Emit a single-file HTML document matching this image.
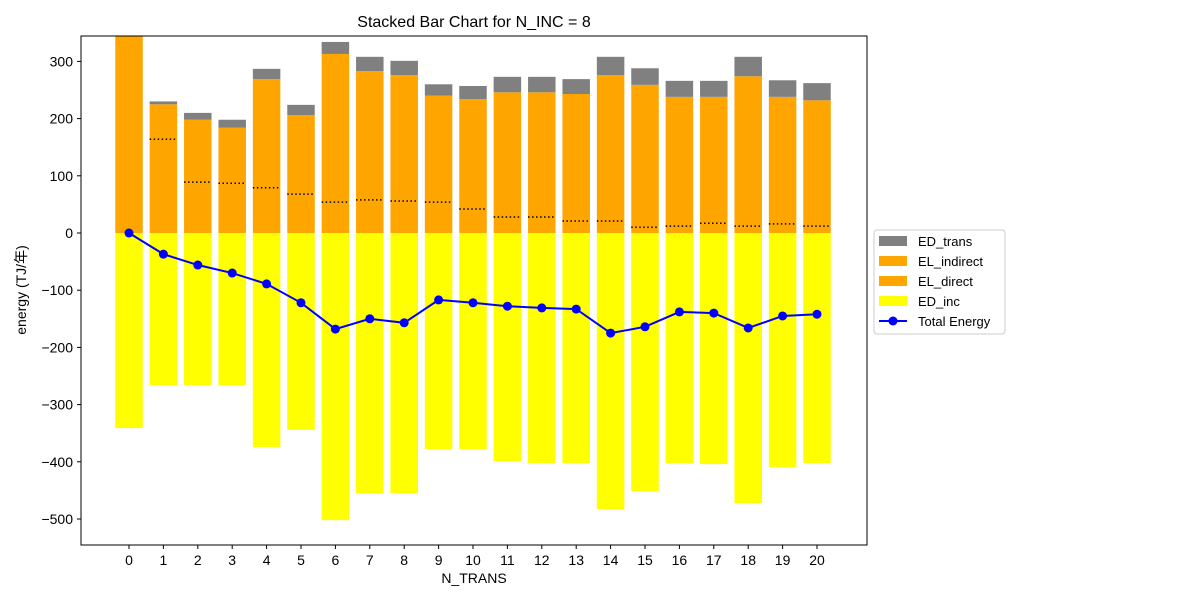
<!DOCTYPE html>
<html><head><meta charset="utf-8">
<style>
body{margin:0;background:#fff;width:1200px;height:600px;overflow:hidden;font-family:"Liberation Sans","Noto Sans CJK JP",sans-serif;}
svg text{font-family:"Liberation Sans","Noto Sans CJK JP",sans-serif;fill:#000}
</style></head><body>
<svg id="chart" width="1200" height="600"></svg>
<script>
const categories=[0,1,2,3,4,5,6,7,8,9,10,11,12,13,14,15,16,17,18,19,20];
const edInc=[-341,-266,-266,-266,-374,-344,-502,-455,-455,-378,-378,-399,-402,-402,-483,-451,-402,-404,-472,-409,-402];
const elDirect=[345,164,89,87,79,68,54,58,56,54,42,28,28,21,21,10,12,17,12,16,12];
const elIndirect=[0,61,109,97,190,138,259,225,220,186,192,218,218,222,255,249,226,221,262,222,220];
const edTrans=[0,5,12,14,18,18,21,25,25,20,23,27,27,26,32,29,28,28,34,29,30];
const totalEnergy=[0,-37,-56,-70,-89,-122,-168,-150,-157,-117,-122,-128,-131,-133,-175,-164,-138,-140,-166,-145,-142];
const yTicks=[300,200,100,0,-100,-200,-300,-400,-500];

const NS="http://www.w3.org/2000/svg";
const svg=document.getElementById('chart');
const L=81,R=867,T=36,B=545;
const xs=i=>129+i*34.4;
const ys=v=>233-v*0.572;
const bw=27.5;
function mk(tag,attrs,parent){const e=document.createElementNS(NS,tag);for(const k in attrs)e.setAttribute(k,attrs[k]);(parent||svg).appendChild(e);return e;}
const clip=mk('clipPath',{id:'pc'});mk('rect',{x:L,y:T,width:R-L,height:B-T},clip);
const g=mk('g',{'clip-path':'url(#pc)'});


categories.forEach((c,i)=>{
  const x=xs(i)-bw/2;
  let r=mk('rect',{x:x,y:ys(0),width:bw,height:ys(edInc[i])-ys(0),fill:'#ffff00'},g);
  
  
  r=mk('rect',{x:x,y:ys(elDirect[i]),width:bw,height:ys(0)-ys(elDirect[i]),fill:'#ffa500'},g);
  
  
  const t1=elDirect[i]+elIndirect[i];
  r=mk('rect',{x:x,y:ys(t1),width:bw,height:ys(elDirect[i])-ys(t1),fill:'#ffa500'},g);
  
  
  const t2=t1+edTrans[i];
  r=mk('rect',{x:x,y:ys(t2),width:bw,height:ys(t1)-ys(t2),fill:'#808080'},g);
  
  
  if(i>0){
    const d=mk('line',{x1:x,x2:x+bw,y1:ys(elDirect[i]),y2:ys(elDirect[i]),stroke:'#000','stroke-width':1.5,'stroke-dasharray':'1.5,2.5'},g);
    
    
  }
});
const pts=categories.map((c,i)=>xs(i)+','+ys(totalEnergy[i])).join(' ');
const pl=mk('polyline',{points:pts,fill:'none',stroke:'#0000ff','stroke-width':2},g);


categories.forEach((c,i)=>{
  const p=mk('circle',{cx:xs(i),cy:ys(totalEnergy[i]),r:4.5,fill:'#0000ff'},g);
  
  
});
const fr=mk('rect',{x:L,y:T,width:R-L,height:B-T,fill:'none',stroke:'#000','stroke-width':1});


yTicks.forEach(v=>{
  mk('line',{x1:L-4,x2:L,y1:ys(v),y2:ys(v),stroke:'#000'});
  const t=mk('text',{x:L-8,y:ys(v)+5,'text-anchor':'end','font-size':14});t.textContent=v<0?'\u2212'+(-v):v;
  
  
});
categories.forEach((c,i)=>{
  mk('line',{x1:xs(i),x2:xs(i),y1:B,y2:B+4,stroke:'#000'});
  const t=mk('text',{x:xs(i),y:B+20,'text-anchor':'middle','font-size':14});t.textContent=c;
  
  
});
let t=mk('text',{x:474,y:27,'text-anchor':'middle','font-size':16});t.textContent='Stacked Bar Chart for N_INC = 8';

t=mk('text',{x:474,y:583,'text-anchor':'middle','font-size':14});t.textContent='N_TRANS';

t=mk('text',{x:26,y:290,'text-anchor':'middle','font-size':14,transform:'rotate(-90 26 290)'});t.textContent='energy (TJ/年)';

const lg=mk('g',{});


mk('rect',{x:874,y:230,width:131,height:104,fill:'#fff',stroke:'#ccc',rx:3},lg);
const items=[['ED_trans','#808080'],['EL_indirect','#ffa500'],['EL_direct','#ffa500'],['ED_inc','#ffff00']];
items.forEach((it,k)=>{
  const y=241+k*20;
  const e=mk('g',{},lg);
  
  
  mk('rect',{x:879,y:y-5,width:28,height:10,fill:it[1]},e);
  const tt=mk('text',{x:918,y:y+5,'font-size':13},e);tt.textContent=it[0];
});
const e=mk('g',{},lg);


mk('line',{x1:879,x2:907,y1:321,y2:321,stroke:'#0000ff','stroke-width':2},e);
mk('circle',{cx:893,cy:321,r:4.5,fill:'#0000ff'},e);
const tt=mk('text',{x:918,y:326,'font-size':13},e);tt.textContent='Total Energy';
</script>
</body></html>
